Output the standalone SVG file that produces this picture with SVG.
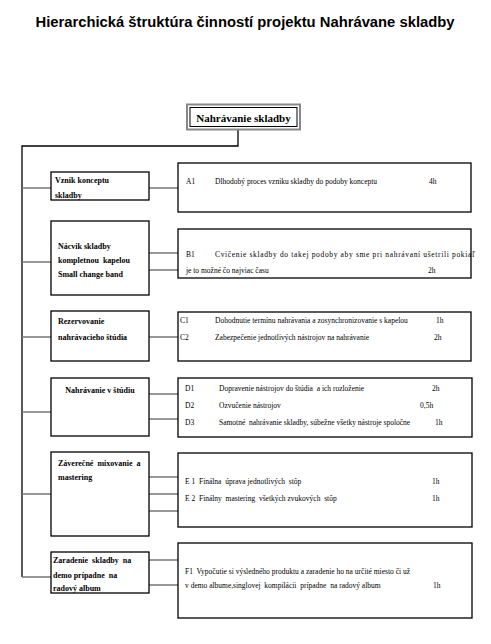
<svg xmlns="http://www.w3.org/2000/svg" width="491" height="644" viewBox="0 0 491 644" xml:space="preserve">
<style>
.box{fill:#fff;stroke:#000;stroke-width:1.3}
.c{stroke:#777;stroke-width:1.6;fill:none}
.m{stroke:#000;stroke-width:1.3;fill:none}
.t{font-family:"Liberation Serif",serif;font-weight:bold;font-size:8px;fill:#000;white-space:pre}
.r{font-family:"Liberation Serif",serif;font-size:7.5px;fill:#000;white-space:pre}
</style>
<rect width="491" height="644" fill="#fff"/>
<text x="245" y="27" text-anchor="middle" font-family="Liberation Sans, Arial, sans-serif" font-weight="bold" font-size="14" textLength="419" lengthAdjust="spacingAndGlyphs">Hierarchická štruktúra činností projektu Nahrávane skladby</text>
<g id="connectors">
<path class="m" d="M238,129 V146 H22 V577"/>
<path class="c" d="M22,188 H51 M149,188 H178"/>
<path class="c" d="M22,262 H51 M149,253 H178 M149,270 H178"/>
<path class="c" d="M22,337 H51 M149,337 H178"/>
<path class="c" d="M22,412 H51 M149,394 H178 M149,419 H178"/>
<path class="c" d="M22,494 H51 M149,477 H178 M149,494 H178 M149,511 H178"/>
<path class="c" d="M22,577 H51 M149,560 H178 M149,585 H178"/>
</g>
<g id="root">
<rect x="187" y="104.5" width="113" height="25" fill="#fff" stroke="#888" stroke-width="2"/>
<rect x="190" y="107.5" width="107" height="19" fill="none" stroke="#000" stroke-width="1"/>
<text x="243.5" y="122" text-anchor="middle" font-family="Liberation Serif, serif" font-weight="bold" font-size="11">Nahrávanie skladby</text>
</g>
<g id="A">
<rect class="box" x="51" y="172" width="98" height="28"/>
<text class="t" x="55" y="183">Vznik konceptu</text>
<text class="t" x="55" y="198">skladby</text>
</g>
<g id="A1">
<rect class="box" x="178" y="163" width="293" height="49"/>
<text class="r" x="186" y="184">A1</text>
<text class="r" x="215" y="184">Dlhodobý proces vzniku skladby do podoby konceptu</text>
<text class="r" x="429" y="184">4h</text>
</g>
<g id="B">
<rect class="box" x="51" y="221" width="98" height="74"/>
<text class="t" x="58" y="249">Nácvik skladby</text>
<text class="t" x="58" y="263">kompletnou  kapelou</text>
<text class="t" x="58" y="277">Small change band</text>
</g>
<g id="B1">
<rect class="box" x="178" y="229" width="293" height="49"/>
<text class="r" x="186" y="257">B1</text>
<text class="r" x="215" y="257" textLength="260" lengthAdjust="spacing">Cvičenie skladby do takej podoby aby sme pri nahrávaní ušetrili pokiaľ</text>
<text class="r" x="186" y="273">je to možné čo najviac času</text>
<text class="r" x="428" y="273">2h</text>
</g>
<g id="C">
<rect class="box" x="51" y="311" width="98" height="50"/>
<text class="t" x="58" y="324">Rezervovanie</text>
<text class="t" x="58" y="340">nahrávacieho štúdia</text>
</g>
<g id="C1">
<rect class="box" x="178" y="312" width="293" height="49"/>
<text class="r" x="180" y="323">C1</text>
<text class="r" x="215" y="323">Dohodnutie termínu nahrávania a zosynchronizovanie s kapelou</text>
<text class="r" x="436" y="323">1h</text>
<text class="r" x="180" y="340">C2</text>
<text class="r" x="215" y="340">Zabezpečenie jednotlivých nástrojov na nahrávanie</text>
<text class="r" x="434" y="340">2h</text>
</g>
<g id="D">
<rect class="box" x="51" y="378" width="98" height="58"/>
<text class="t" x="100" y="393" text-anchor="middle">Nahrávanie v štúdiu</text>
</g>
<g id="D1">
<rect class="box" x="178" y="378" width="294" height="59"/>
<text class="r" x="185" y="391">D1</text>
<text class="r" x="219" y="391">Dopravenie nástrojov do štúdia  a ich rozloženie</text>
<text class="r" x="432" y="391">2h</text>
<text class="r" x="185" y="408">D2</text>
<text class="r" x="219" y="408">Ozvučenie nástrojov</text>
<text class="r" x="420" y="408">0,5h</text>
<text class="r" x="185" y="425">D3</text>
<text class="r" x="219" y="425">Samotné  nahrávanie skladby, súbežne všetky nástroje spoločne</text>
<text class="r" x="435" y="425">1h</text>
</g>
<g id="E">
<rect class="box" x="51" y="452" width="98" height="84"/>
<text class="t" x="58" y="466">Záverečné  mixovanie  a</text>
<text class="t" x="58" y="480">mastering</text>
</g>
<g id="E1">
<rect class="box" x="178" y="453" width="294" height="74"/>
<text class="r" x="185" y="484">E 1  Finálna  úprava jednotlivých  stôp</text>
<text class="r" x="432" y="484">1h</text>
<text class="r" x="185" y="501">E 2  Finálny  mastering  všetkých zvukových  stôp</text>
<text class="r" x="432" y="501">1h</text>
</g>
<g id="F">
<rect class="box" x="51" y="552" width="98" height="41"/>
<text class="t" x="53" y="563">Zaradenie  skladby  na</text>
<text class="t" x="53" y="578">demo prípadne  na</text>
<text class="t" x="53" y="591">radový album</text>
</g>
<g id="F1">
<rect class="box" x="178" y="543" width="294" height="75"/>
<text class="r" x="185" y="574">F1  Vypočutie si výsledného produktu a zaradenie ho na určité miesto či už</text>
<text class="r" x="185" y="588">v demo albume,singlovej  kompilácii  prípadne  na radový album</text>
<text class="r" x="433" y="588">1h</text>
</g>
</svg>
